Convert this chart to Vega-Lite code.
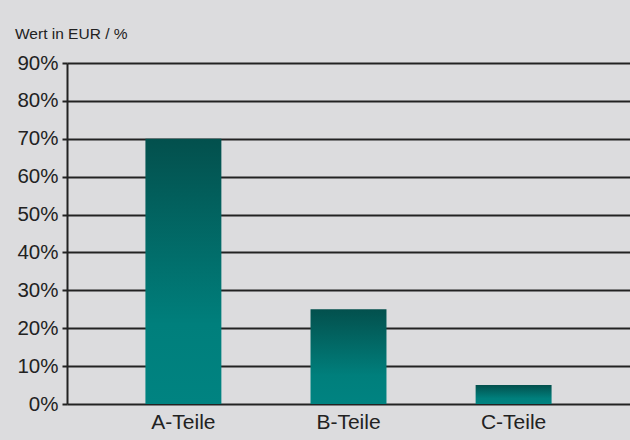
{
  "$schema": "https://vega.github.io/schema/vega-lite/v6.json",
  "width": 563,
  "height": 341,
  "autosize": {"type": "none"},
  "padding": {"left": 67, "top": 63, "right": 0, "bottom": 36},
  "background": "#dcdcde",
  "title": {
    "text": "Wert in EUR / %",
    "anchor": "start",
    "frame": "group",
    "dx": -52,
    "offset": 11,
    "fontSize": 15.5,
    "fontWeight": "normal",
    "font": "Liberation Sans",
    "color": "#222222"
  },
  "config": {
    "view": {"stroke": null},
    "font": "Liberation Sans"
  },
  "data": {
    "values": [
      {"Teil": "A-Teile", "Wert": 70},
      {"Teil": "B-Teile", "Wert": 25},
      {"Teil": "C-Teile", "Wert": 5}
    ]
  },
  "mark": {
    "type": "bar",
    "color": {
      "gradient": "linear",
      "x1": 0, "y1": 0, "x2": 0, "y2": 1,
      "stops": [
        {"offset": 0, "color": "#03504d"},
        {"offset": 0.7, "color": "#007f7c"},
        {"offset": 1, "color": "#008381"}
      ]
    }
  },
  "encoding": {
    "x": {
      "field": "Teil",
      "type": "nominal",
      "sort": null,
      "scale": {"paddingInner": 0.54, "paddingOuter": 0.475},
      "axis": {
        "title": null,
        "domain": false,
        "ticks": false,
        "labelAngle": 0,
        "labelFontSize": 21,
        "labelColor": "#222222",
        "labelPadding": 7
      }
    },
    "y": {
      "field": "Wert",
      "type": "quantitative",
      "scale": {"domain": [0, 90], "nice": false},
      "axis": {
        "title": null,
        "values": [0, 10, 20, 30, 40, 50, 60, 70, 80, 90],
        "labelExpr": "datum.value + '%'",
        "labelFontSize": 20.5,
        "labelColor": "#222222",
        "labelPadding": 4,
        "domain": true,
        "domainColor": "#222222",
        "domainWidth": 2,
        "ticks": true,
        "tickSize": 5,
        "tickWidth": 2,
        "tickColor": "#222222",
        "grid": true,
        "gridColor": "#222222",
        "gridWidth": 2,
        "gridOpacity": 1
      }
    }
  }
}
